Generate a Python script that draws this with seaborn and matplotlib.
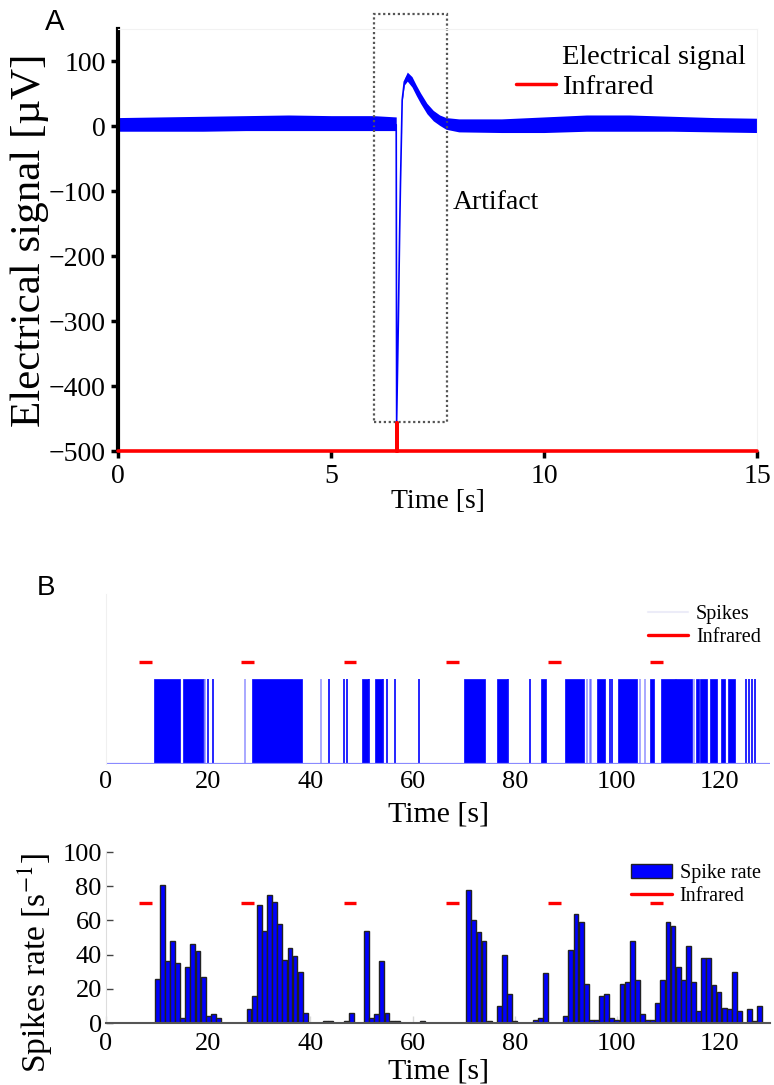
import numpy as np
import matplotlib
matplotlib.use("Agg")
import matplotlib.pyplot as plt
import seaborn as sns
from matplotlib.patches import Rectangle, Patch
from matplotlib.lines import Line2D

# ---- panel A: electrical signal around the infrared pulse
sig_t = [0, 1, 2, 3, 4, 5, 6, 6.53, 6.54, 6.58, 6.61, 6.63, 6.67, 6.72, 6.79,
         6.9, 7.0, 7.1, 7.25, 7.4, 7.55, 7.7, 8.0, 9, 10, 11, 12, 13, 14, 15]
sig_mid = [1, 1, 1, 2, 2, 2, 2, 2, -455, -300, -165, -88, 40, 68, 76,
           68, 55, 43, 27, 16, 9, 4, 1, 0, 1, 3, 3, 2, 1, 0]
noise_up = [12, 13, 14, 14, 15, 14, 14, 12, 0, 0, 0, 0, 2, 5, 7,
            8, 8, 8, 8, 8, 8, 9, 10, 11, 13, 14, 14, 13, 12, 12]
noise_dn = [9, 9, 9, 9, 9, 9, 9, 9, 0, 0, 0, 0, 2, 5, 7,
            8, 8, 8, 8, 8, 8, 9, 10, 10, 11, 11, 11, 10, 10, 10]
ir_a_t = [0, 6.55, 6.55, 6.56, 6.56, 15]
ir_a_v = [-500, -500, -457, -457, -500, -500]

# ---- panel B: spike raster (bursts as intervals, isolated spikes as times)
burst_start = [9.4, 15.1, 28.5, 50.1, 52.6, 70.0, 76.5, 85.1, 89.8, 96.1, 100.2,
               106.4, 108.7, 115.4, 116.2, 118.2, 120.3, 121.7]
burst_end = [14.4, 18.9, 38.4, 51.2, 54.0, 74.1, 78.5, 86.1, 93.6, 97.6, 103.9,
             107.2, 114.7, 116.0, 117.7, 119.6, 121.2, 123.2]
spikes = [20.0, 20.9, 43.7, 46.5, 47.1, 51.5, 54.3, 55.0, 56.5, 61.2, 78.7, 82.9,
          98.7, 99.1, 125.2, 125.8, 126.5, 127.1]
faint_spikes = [19.1, 19.4, 27.2, 42.0, 94.1, 94.8, 95.0, 104.6, 105.6, 111.5, 115.0]

# ---- panel C: spike rate per 1 s bin
rate_t = [10, 11, 12, 13, 14, 15, 16, 17, 18, 19, 20, 21, 22,
          28, 29, 30, 31, 32, 33, 34, 35, 36, 37, 38, 39,
          43, 44, 47, 48, 51, 52, 53, 54, 55, 56, 57, 62,
          71, 72, 73, 74, 75, 77, 78, 79, 80, 84, 85, 86,
          90, 91, 92, 93, 94, 95, 96, 97, 98, 99, 100, 101, 102, 103, 104, 105,
          106, 107, 108, 109, 110, 111, 112, 113, 114, 115, 116, 117, 118, 119,
          120, 121, 122, 123, 124, 126, 127, 128]
rate_v = [26, 81, 36, 48, 35, 3, 33, 46, 42, 27, 4, 5, 3,
          8, 16, 69, 54, 75, 71, 58, 37, 44, 39, 30, 6,
          1, 1, 1, 6, 54, 3, 5, 36, 6, 1, 1, 1,
          78, 60, 53, 48, 1, 10, 40, 17, 1, 2, 3, 29,
          4, 43, 64, 59, 23, 2, 2, 16, 17, 3, 2, 23, 24, 48, 25, 5,
          2, 2, 12, 25, 59, 57, 33, 25, 45, 24, 7, 38, 38, 22,
          18, 9, 8, 30, 7, 8, 1, 10]

# infrared stimulation periods (panels B and C)
ir_on = [6.5, 26.5, 46.5, 66.5, 86.5, 106.5]
ir_off = [9, 29, 49, 69, 89, 109]

BLUE = "#0000ff"
RED = "#ff0000"

sns.set_style("white")
plt.rcParams["font.family"] = ["Liberation Serif", "DejaVu Serif"]
plt.rcParams["mathtext.fontset"] = "stix"
for k in ["text.color", "axes.labelcolor", "xtick.labelcolor", "ytick.labelcolor"]:
    plt.rcParams[k] = "black"

fig = plt.figure(figsize=(7.74, 10.85), dpi=100)
axA = fig.add_axes([0.1525, 0.5843, 0.8256, 0.3894])
axB = fig.add_axes([0.137, 0.2959, 0.858, 0.1567])
axC = fig.add_axes([0.137, 0.0571, 0.858, 0.1576])

# ---------------- A
mid = np.array(sig_mid, dtype=float)
axA.fill_between(sig_t, mid - np.array(noise_dn), mid + np.array(noise_up),
                 color=BLUE, lw=0)
sns.lineplot(x=sig_t, y=sig_mid, ax=axA, color=BLUE, lw=1.2,
             estimator=None, sort=False)
axA.plot(ir_a_t, ir_a_v, color=RED, lw=2.6, clip_on=False, zorder=5)
axA.add_patch(Rectangle((6.0, -455), 1.72, 627, fill=False, ls=(0, (1, 1.2)),
                        ec="#555555", lw=1.6, clip_on=False))
axA.text(7.86, -117, "Artifact", fontsize=20, va="center")
axA.set_xlim(0, 15)
axA.set_ylim(-500, 150)
axA.set_xticks([0, 5, 10, 15])
axA.set_yticks(range(-500, 101, 100))
axA.tick_params(direction="out", length=5, width=2.5, labelsize=20,
                color="black", pad=4, left=True, bottom=True)
for s in ["top", "right"]:
    axA.spines[s].set_color("#f2f2f2")
axA.spines["left"].set_linewidth(3)
axA.spines["left"].set_color("black")
axA.spines["bottom"].set_visible(False)
axA.set_xlabel("Time [s]", fontsize=20)
axA.xaxis.set_label_coords(0.5, -0.09)
axA.set_ylabel("Electrical signal [µV]", fontsize=31)
axA.yaxis.set_label_coords(-0.108, 0.5)
hA = [Line2D([], [], color="white", lw=2.5), Line2D([], [], color=RED, lw=2.5)]
axA.legend(hA, ["Electrical signal", "Infrared"], loc="upper right",
           bbox_to_anchor=(1.0, 0.99), frameon=False, fontsize=20.5,
           handlelength=1.4, handletextpad=0.2, labelspacing=0.15,
           borderaxespad=0)

# ---------------- B
axB.broken_barh([(s, e - s) for s, e in zip(burst_start, burst_end)], (0, 1),
                facecolor=BLUE, edgecolor=BLUE, lw=0.5)
axB.vlines(spikes, 0, 1, color=BLUE, lw=1.2)
axB.vlines(faint_spikes, 0, 1, color=BLUE, lw=1.2, alpha=0.4)
axB.hlines([1.2] * len(ir_on), ir_on, ir_off, color=RED, lw=2.4)
axB.axhline(0, color="#8a8aff", lw=1.6)
axB.set_xlim(0, 130)
axB.set_ylim(0, 2)
axB.set_yticks([])
axB.set_xticks(range(0, 121, 20))
axB.tick_params(axis="x", length=0, labelsize=19, pad=5)
for s in ["top", "right", "bottom"]:
    axB.spines[s].set_visible(False)
axB.spines["left"].set_color("#f0f0f0")
axB.set_xlabel("Time [s]", fontsize=21.5)
axB.xaxis.set_label_coords(0.5, -0.22)
hB = [Line2D([], [], color="#ececf8", lw=1.5), Line2D([], [], color=RED, lw=2.4)]
axB.legend(hB, ["Spikes", "Infrared"], loc="upper right",
           bbox_to_anchor=(0.998, 0.98), frameon=False, fontsize=14.5,
           handlelength=2.0, handletextpad=0.4, labelspacing=0.15,
           borderaxespad=0)

# ---------------- C
sns.barplot(x=rate_t, y=rate_v, native_scale=True, width=0.95, color=BLUE,
            saturation=1, edgecolor="#222222", linewidth=1, errorbar=None,
            ax=axC)
axC.hlines([70] * len(ir_on), ir_on, ir_off, color=RED, lw=2.4, zorder=4)
axC.set_xlim(0, 130)
axC.set_ylim(0, 100)
axC.set_xticks(range(0, 121, 20))
axC.set_yticks(range(0, 101, 20))
axC.tick_params(axis="y", direction="in", length=5, width=1, color="#444444",
                labelsize=19, pad=3, left=True)
axC.tick_params(axis="x", direction="in", length=5, width=1, color="#d8d8d8",
                labelsize=19, pad=7, bottom=True)
for s in ["top", "right"]:
    axC.spines[s].set_visible(False)
axC.spines["left"].set_color("#dddddd")
axC.spines["bottom"].set_color("#555555")
axC.spines["bottom"].set_linewidth(1.5)
axC.set_xlabel("Time [s]", fontsize=21.5)
axC.xaxis.set_label_coords(0.5, -0.205)
axC.set_ylabel("Spikes rate [s$^{-1}$]", fontsize=24)
axC.yaxis.set_label_coords(-0.077, 0.35)
hC = [Patch(facecolor=BLUE, edgecolor="#222222"), Line2D([], [], color=RED, lw=2.4)]
axC.legend(hC, ["Spike rate", "Infrared"], loc="upper right",
           bbox_to_anchor=(0.998, 0.975), frameon=False, fontsize=14.5,
           handlelength=2.0, handletextpad=0.4, labelspacing=0.15,
           borderaxespad=0)

fig.text(55 / 774, 1 - 22 / 1085, "A", family=["Liberation Sans", "DejaVu Sans"],
         fontsize=21, ha="center", va="center")
fig.text(46 / 774, 1 - 588 / 1085, "B", family=["Liberation Sans", "DejaVu Sans"],
         fontsize=20, ha="center", va="center")

fig.savefig("out.png", dpi=100)
